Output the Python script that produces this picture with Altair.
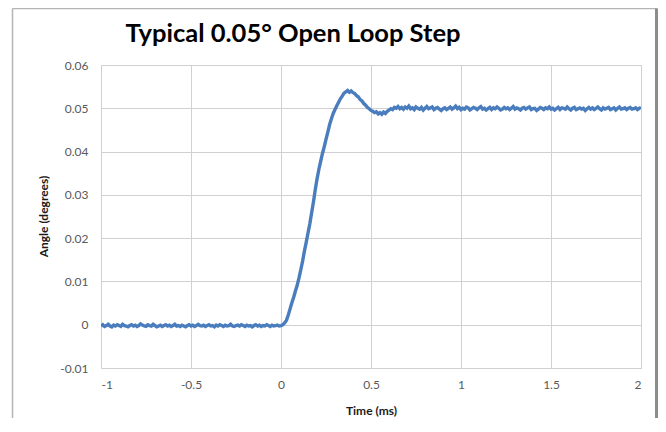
import altair as alt
import pandas as pd

# Angle samples (degrees), one every 0.01 ms starting at -1.00 ms
baseline = [
    -0.0003, 0.0000, -0.0004, -0.0002, 0.0001, -0.0003, -0.0005, -0.0001, -0.0003, 0.0000,
    -0.0002, -0.0004, 0.0001, -0.0002, -0.0003, -0.0005, -0.0002, 0.0000, -0.0003, -0.0001,
    -0.0004, -0.0002, 0.0002, -0.0001, -0.0003, -0.0004, 0.0000, -0.0002, -0.0003, 0.0001,
    -0.0002, -0.0005, -0.0003, -0.0001, -0.0004, -0.0002, 0.0000, -0.0003, -0.0001, -0.0004,
    -0.0002, 0.0001, -0.0003, -0.0002, -0.0004, -0.0001, -0.0003, -0.0005, -0.0002, 0.0000,
    -0.0003, -0.0001, -0.0004, -0.0002, 0.0001, -0.0002, -0.0003, -0.0001, -0.0004, -0.0002,
    0.0000, -0.0003, -0.0002, -0.0005, -0.0001, -0.0003, 0.0000, -0.0002, -0.0004, -0.0001,
    -0.0003, -0.0002, 0.0001, -0.0003, -0.0004, -0.0002, -0.0001, -0.0003, 0.0000, -0.0002,
    -0.0004, -0.0001, -0.0003, -0.0002, -0.0005, -0.0002, 0.0000, -0.0003, -0.0001, -0.0004,
    -0.0002, -0.0003, 0.0000, -0.0002, -0.0004, -0.0001, -0.0003, -0.0002, -0.0001, -0.0003,
    -0.0002]
rise = [
    0.0000, 0.0004, 0.0010, 0.0022, 0.0036, 0.0050, 0.0063, 0.0078, 0.0091, 0.0108,
    0.0127, 0.0147, 0.0170, 0.0190, 0.0212, 0.0233, 0.0258, 0.0283, 0.0311, 0.0336,
    0.0358, 0.0377, 0.0395, 0.0411, 0.0428, 0.0445, 0.0462, 0.0476, 0.0488, 0.0497,
    0.0506, 0.0514, 0.0522, 0.0528, 0.0535, 0.0538, 0.0541, 0.0537, 0.0540, 0.0536,
    0.0534, 0.0529, 0.0526, 0.0520, 0.0517, 0.0511, 0.0507, 0.0502, 0.0499, 0.0495,
    0.0493, 0.0490, 0.0492, 0.0487, 0.0490, 0.0486, 0.0491, 0.0488, 0.0493, 0.0496,
    0.0499, 0.0497, 0.0502, 0.0500, 0.0504, 0.0499]
settled = [
    0.0502, 0.0498, 0.0503, 0.0500, 0.0505, 0.0499, 0.0501, 0.0497, 0.0503, 0.0500,
    0.0498, 0.0502, 0.0496, 0.0500, 0.0504, 0.0499, 0.0501, 0.0503, 0.0497, 0.0500,
    0.0502, 0.0498, 0.0495, 0.0499, 0.0501, 0.0497, 0.0500, 0.0503, 0.0498, 0.0501,
    0.0505, 0.0499, 0.0502, 0.0497, 0.0500, 0.0498, 0.0503, 0.0501, 0.0496, 0.0499,
    0.0502, 0.0500, 0.0497, 0.0501, 0.0504, 0.0498, 0.0500, 0.0496, 0.0499, 0.0502,
    0.0497, 0.0501, 0.0499, 0.0503, 0.0500, 0.0496, 0.0498, 0.0502, 0.0499, 0.0501,
    0.0497, 0.0500, 0.0504, 0.0498, 0.0501, 0.0499, 0.0496, 0.0500, 0.0502, 0.0498,
    0.0501, 0.0503, 0.0497, 0.0499, 0.0500, 0.0495, 0.0498, 0.0502, 0.0500, 0.0497,
    0.0501, 0.0499, 0.0503, 0.0498, 0.0500, 0.0496, 0.0499, 0.0502, 0.0497, 0.0501,
    0.0500, 0.0498, 0.0503, 0.0499, 0.0496, 0.0500, 0.0502, 0.0497, 0.0499, 0.0501,
    0.0498, 0.0500, 0.0495, 0.0499, 0.0502, 0.0498, 0.0501, 0.0497, 0.0500, 0.0503,
    0.0499, 0.0496, 0.0501, 0.0498, 0.0500, 0.0502, 0.0497, 0.0499, 0.0501, 0.0496,
    0.0500, 0.0503, 0.0498, 0.0499, 0.0501, 0.0497, 0.0500, 0.0502, 0.0498, 0.0499,
    0.0501, 0.0497, 0.0500, 0.0502]

angles = baseline + rise + settled
times = [round(-1.0 + 0.01 * i, 2) for i in range(len(angles))]

x_ticks = [-1, -0.5, 0, 0.5, 1, 1.5, 2]
y_ticks = [-0.01, 0, 0.01, 0.02, 0.03, 0.04, 0.05, 0.06]

df = pd.DataFrame({"time": times, "angle": angles})

FONT = "Lato"
GRID = "#d0d0d0"

line = alt.Chart(df).mark_line(color="#4a7dbd", strokeWidth=3.4, clip=True).encode(
    x=alt.X("time:Q",
            scale=alt.Scale(domain=[-1, 2], nice=False, zero=False),
            axis=alt.Axis(values=x_ticks, title="Time (ms)", grid=True, ticks=False, domain=False,
                          labelExpr="datum.value < 0 ? '-' + format(-datum.value, '~g') : format(datum.value, '~g')",
                          labelPadding=11, titleY=42, titleBaseline="middle")),
    y=alt.Y("angle:Q",
            scale=alt.Scale(domain=[-0.01, 0.06], nice=False, zero=False),
            axis=alt.Axis(values=y_ticks, title="Angle (degrees)", grid=True, ticks=False, domain=False,
                          labelExpr="datum.value < 0 ? '-' + format(-datum.value, '.2f') : (datum.value == 0 ? '0' : format(datum.value, '.2f'))",
                          labelPadding=13, titleX=-58, titleY=151, titleBaseline="middle")),
)

one = alt.Data(values=[{"k": 1}])

title = alt.Chart(one).mark_text(
    text="Typical 0.05° Open Loop Step", font=FONT, fontSize=25.5, fontWeight="bold",
    color="#000000", align="center", baseline="alphabetic"
).encode(x=alt.value(192), y=alt.value(-23))

frame_left = alt.Chart(one).mark_rule(color="#b4b4b4", strokeWidth=1.5).encode(
    x=alt.value(-88.5), y=alt.value(-56.5), y2=alt.value(400))
frame_top = alt.Chart(one).mark_rule(color="#b4b4b4", strokeWidth=1.5).encode(
    x=alt.value(-88.5), x2=alt.value(556), y=alt.value(-56.5))
frame_right = alt.Chart(one).mark_rule(color="#8c8c8c", strokeWidth=3).encode(
    x=alt.value(555.5), y=alt.value(-56.5), y2=alt.value(400))

chart = alt.layer(frame_left, frame_top, frame_right, line, title).properties(
    width=540, height=303,
    padding={"left": 93, "top": 57, "right": 17, "bottom": 50},
    autosize="none",
    background="white",
).configure_view(stroke=GRID, strokeWidth=1).configure_axis(
    gridColor=GRID, gridWidth=1,
    labelFont=FONT, labelFontSize=12, labelColor="#595959",
    titleFont=FONT, titleFontSize=12, titleFontWeight="bold", titleColor="#1a1a1a",
)

chart.save("out.html", embed_options={"renderer": "svg", "actions": False})
